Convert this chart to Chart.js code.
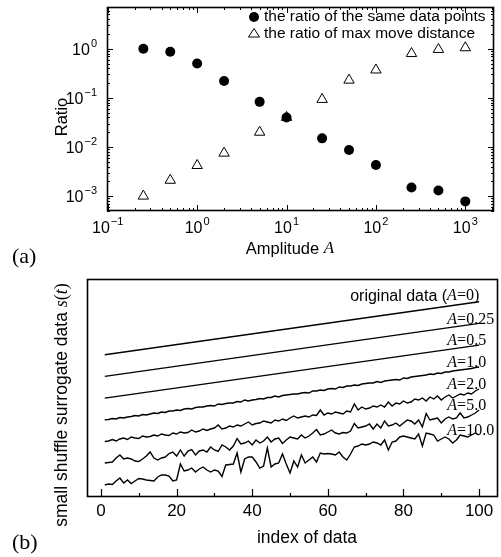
<!DOCTYPE html>
<html>
<head>
  <title>Small shuffle surrogate: ratio vs amplitude</title>
  <style>
    body { margin: 0; background: #fff; }
    #wrap { position: relative; width: 501px; height: 557px; }
    canvas { position: absolute; left: 0; }
    #chartA { top: 0; }
    #chartB { top: 270px; }
  </style>
</head>
<body>
  <div id="wrap">
    <canvas id="chartA" width="501" height="270"></canvas>
    <canvas id="chartB" width="501" height="287"></canvas>
  </div>

  <script src="https://cdn.jsdelivr.net/npm/chart.js"></script>
  <script>
    // ---- panel (a): ratios against amplitude A (log-log)
    const amplitudes = [0.25, 0.5, 1, 2, 5, 10, 25, 50, 100, 250, 500, 1000];
    const sameRatio = [1.0, 0.87, 0.5, 0.22, 0.083, 0.04, 0.015, 0.0087, 0.0043, 0.0015, 0.0013, 0.00078];
    const moveRatio = [0.001, 0.0021, 0.0042, 0.0075, 0.02, 0.04, 0.093, 0.23, 0.37, 0.8, 0.97, 1.05];
    const xDecades = [-1, 0, 1, 2, 3];
    const yDecades = [-3, -2, -1, 0];
    const legendA = ['the ratio of the same data points', 'the ratio of max move distance'];

    // ---- panel (b): surrogate series s(t), stacked with an offset (arbitrary units)
    const indexTicks = [0, 20, 40, 60, 80, 100];
    const ampNames = ['0', '0.25', '0.5', '1.0', '2.0', '5.0', '10.0'];
    const straightIdx = [1, 100];
    const sOrig = [142.3, 195.3];
    const sA025 = [120.6, 173.6];
    const sA05 = [98.9, 151.9];
    const sA1 = [77.2, 77.5, 78.5, 78, 79.5, 79, 80, 80.5, 81.5, 81, 82.5, 82, 83, 84, 83.5, 85, 84.5, 86, 86, 87,
      86.5, 88, 88.5, 88, 89.5, 90, 90, 91, 91.5, 91, 93, 92.5, 93.5, 94, 94, 95.5, 95, 97, 96, 97,
      97.5, 98.5, 98, 99.5, 99.5, 101, 100, 101.5, 102, 102.5, 103, 103, 104, 104.5, 104, 106, 106, 107, 106.5, 108,
      108.5, 108, 110, 109.5, 111, 111, 112, 111.5, 113, 113.5, 114, 114, 115.5, 114.5, 116, 116.5, 117, 117.5, 117, 119,
      118.5, 120, 120.5, 121, 121.5, 122, 123, 122.5, 124, 123.5, 125, 125, 126, 126.5, 127, 127.5, 128, 128.5, 129.5, 130];
    const sA2 = [55.5, 56, 57.5, 56, 58, 59, 57.5, 60, 59, 58.5, 61, 60, 60.5, 62, 61, 63, 62, 61.5, 64, 63,
      65, 64, 64.5, 67, 65, 66, 68, 66.5, 68, 69, 72, 68, 69, 71, 70, 72, 71, 73, 75, 72,
      73.5, 74, 76, 75, 74, 77, 76, 78, 76.5, 79, 81, 79, 80, 81, 80, 82, 81.5, 87, 82, 84,
      83, 85, 84, 83, 86, 85, 93, 87, 90, 88, 89, 91, 90, 92, 90, 95, 91, 94, 93, 96,
      94, 95, 98, 97, 99, 96, 100, 98, 101, 97, 100, 102, 99, 101, 103, 102, 104, 103, 106, 108];
    const sA5 = [34, 34.5, 35, 39, 42, 38, 39, 38, 36, 35.5, 38, 41, 45, 39, 37, 39, 40, 43.5, 45, 41,
      47, 41, 46, 47.5, 42, 46, 47, 45, 50, 47, 45.5, 52, 50, 47, 51, 58.5, 53, 54, 56, 52,
      57, 54, 56, 60, 55, 58, 59, 53.5, 57, 60, 59, 58, 62, 59, 61, 64, 67.5, 62, 63, 65,
      67, 64, 63, 64.5, 64, 66, 73.5, 69, 70, 71, 73, 68, 73, 69, 76, 71, 72, 74, 71, 74,
      77, 76, 73, 77, 70, 83.5, 77, 78, 79, 74, 78, 80, 78, 79, 84, 79, 80, 82, 84, 87];
    const sA10 = [12, 13, 12.5, 16, 19, 14, 17, 13.5, 16, 18.5, 18, 17, 16.5, 16, 20, 22, 22, 21, 16, 17,
      33, 26, 27, 29, 25, 28, 30, 27, 25, 27, 26, 20.5, 32, 32.5, 33, 44, 25, 38, 40, 40,
      35, 29, 31, 49, 30, 33, 34, 43, 33, 24, 36, 30, 42, 34, 37, 40, 35, 44, 43, 43.5,
      43, 42, 45, 40, 37, 43, 50, 51, 53, 52, 53, 55, 54, 52, 57, 47, 55, 56, 60, 61,
      60, 59, 58, 63, 51, 64, 63, 62, 56, 58, 60, 58, 54, 57, 62, 61, 60, 62, 64, 62];

    const SANS = '"Liberation Sans", Arial, sans-serif';
    const SERIF = '"Liberation Serif", "Times New Roman", serif';

    // draw a run of text pieces in different fonts, left to right
    function runsWidth(ctx, runs) {
      let w = 0;
      runs.forEach(([t, f]) => { ctx.font = f; w += ctx.measureText(t).width; });
      return w;
    }
    function drawRuns(ctx, runs, x, y) {
      ctx.textAlign = 'left';
      ctx.textBaseline = 'middle';
      runs.forEach(([t, f]) => { ctx.font = f; ctx.fillText(t, x, y); x += ctx.measureText(t).width; });
    }

    // "10" with a raised exponent
    function drawPow(ctx, e, x, y, align) {
      const sup = e < 0 ? '\u2212' + (-e) : String(e);
      ctx.font = '16px ' + SANS;
      const wb = ctx.measureText('10').width;
      ctx.font = '11px ' + SANS;
      const ws = ctx.measureText(sup).width;
      const total = wb + 1 + ws;
      const left = align === 'center' ? x - total / 2 : x - total;
      ctx.textAlign = 'left';
      ctx.textBaseline = 'middle';
      ctx.font = '16px ' + SANS;
      ctx.fillText('10', left, y);
      ctx.font = '11px ' + SANS;
      ctx.fillText(sup, left + wb + 1, y - 7);
    }

    const framePluginA = {
      id: 'framePluginA',
      afterDraw(chart) {
        const { ctx, chartArea: a, scales: { x, y } } = chart;
        ctx.save();
        ctx.strokeStyle = '#000';
        ctx.fillStyle = '#000';
        ctx.lineWidth = 1.6;
        ctx.strokeRect(a.left + 0.5, a.top + 0.5, a.right - a.left - 1, a.bottom - a.top - 1);

        // inward ticks on all four sides, major at decades
        ctx.lineWidth = 1;
        ctx.beginPath();
        for (let e = -1; e <= 3; e++) {
          for (let m = 1; m <= 9; m++) {
            const v = m * Math.pow(10, e);
            if (v < x.min || v > x.max) continue;
            const px = Math.round(x.getPixelForValue(v)) + 0.5;
            const len = m === 1 ? 6 : 3;
            ctx.moveTo(px, a.bottom); ctx.lineTo(px, a.bottom - len);
            ctx.moveTo(px, a.top); ctx.lineTo(px, a.top + len);
          }
        }
        for (let e = -4; e <= 0; e++) {
          for (let m = 1; m <= 9; m++) {
            const v = m * Math.pow(10, e);
            if (v < y.min || v > y.max) continue;
            const py = Math.round(y.getPixelForValue(v)) + 0.5;
            const len = m === 1 ? 6 : 3;
            ctx.moveTo(a.left, py); ctx.lineTo(a.left + len, py);
            ctx.moveTo(a.right, py); ctx.lineTo(a.right - len, py);
          }
        }
        ctx.stroke();

        xDecades.forEach(e => drawPow(ctx, e, x.getPixelForValue(Math.pow(10, e)), 229, 'center'));
        yDecades.forEach(e => drawPow(ctx, e, 97, y.getPixelForValue(Math.pow(10, e)) + 2, 'right'));

        // axis titles
        const t1 = [['Amplitude ', '16.5px ' + SANS], ['A', 'italic 17px ' + SERIF]];
        drawRuns(ctx, t1, 290 - runsWidth(ctx, t1) / 2, 249);
        ctx.save();
        ctx.translate(62, 117);
        ctx.rotate(-Math.PI / 2);
        ctx.font = '16.5px ' + SANS;
        ctx.textAlign = 'center';
        ctx.textBaseline = 'middle';
        ctx.fillText('Ratio', 0, 0);
        ctx.restore();

        // legend
        ctx.beginPath();
        ctx.arc(254, 17, 5, 0, Math.PI * 2);
        ctx.fill();
        ctx.beginPath();
        ctx.moveTo(254, 28.5); ctx.lineTo(259.5, 37); ctx.lineTo(248.5, 37); ctx.closePath();
        ctx.stroke();
        ctx.font = '15.5px ' + SANS;
        ctx.textAlign = 'left';
        ctx.textBaseline = 'middle';
        chart.data.datasets.forEach((ds, i) => ctx.fillText(ds.label, 264, 17 + i * 16.5));

        ctx.font = '22px ' + SERIF;
        ctx.fillText('(a)', 12, 257);
        ctx.restore();
      }
    };

    new Chart(document.getElementById('chartA'), {
      type: 'scatter',
      data: {
        datasets: [
          {
            label: legendA[0],
            data: amplitudes.map((a, i) => ({ x: a, y: sameRatio[i] })),
            pointStyle: 'circle',
            pointRadius: 5,
            backgroundColor: '#000',
            borderColor: '#000',
            borderWidth: 0
          },
          {
            label: legendA[1],
            data: amplitudes.map((a, i) => ({ x: a, y: moveRatio[i] })),
            pointStyle: 'triangle',
            pointRadius: 6,
            backgroundColor: 'rgba(255,255,255,0)',
            borderColor: '#000',
            borderWidth: 1
          }
        ]
      },
      options: {
        responsive: false,
        animation: false,
        devicePixelRatio: 1,
        layout: { padding: { top: 6, right: 3, left: 0, bottom: 0 } },
        plugins: { legend: { display: false }, tooltip: { enabled: false } },
        scales: {
          x: {
            type: 'logarithmic', min: 0.098, max: 2094,
            grid: { display: false }, border: { display: false },
            ticks: { display: false },
            afterFit: s => { s.height = 59; }
          },
          y: {
            type: 'logarithmic', min: 4.97e-4, max: 7.1,
            grid: { display: false }, border: { display: false },
            ticks: { display: false },
            afterFit: s => { s.width = 107; }
          }
        }
      },
      plugins: [framePluginA]
    });

    const framePluginB = {
      id: 'framePluginB',
      afterDraw(chart) {
        const { ctx, chartArea: a, scales: { x, y } } = chart;
        ctx.save();
        ctx.strokeStyle = '#000';
        ctx.fillStyle = '#000';
        ctx.lineWidth = 1.6;
        ctx.strokeRect(a.left + 0.5, a.top + 0.5, a.right - a.left - 1, a.bottom - a.top - 1);

        ctx.lineWidth = 1.2;
        ctx.beginPath();
        for (let v = 0; v <= 100; v += 10) {
          const px = Math.round(x.getPixelForValue(v)) + 0.5;
          const len = v % 20 === 0 ? 8 : 4;
          ctx.moveTo(px, a.bottom); ctx.lineTo(px, a.bottom - len);
        }
        ctx.stroke();

        ctx.font = '17px ' + SANS;
        ctx.textAlign = 'center';
        ctx.textBaseline = 'middle';
        indexTicks.forEach(v => ctx.fillText(String(v), x.getPixelForValue(v), 241));

        ctx.font = '17.5px ' + SANS;
        ctx.fillText('index of data', 307, 268);

        // rotated y title
        const yt = [['small shuffle surrogate data ', '17.5px ' + SANS], ['s', 'italic 18px ' + SERIF],
          ['(', '18px ' + SERIF], ['t', 'italic 18px ' + SERIF], [')', '18px ' + SERIF]];
        ctx.save();
        ctx.translate(62, 135);
        ctx.rotate(-Math.PI / 2);
        drawRuns(ctx, yt, -runsWidth(ctx, yt) / 2, 0);
        ctx.restore();

        // series labels next to the right end of each line
        chart.data.datasets.forEach((ds, i) => {
          const last = ds.data[ds.data.length - 1].y;
          const py = y.getPixelForValue(last) - 4;
          const amp = [['A', 'italic 16px ' + SERIF], ['=' + ampNames[i], '16px ' + SERIF]];
          if (i === 0) {
            drawRuns(ctx, [['original data (', '16px ' + SANS], ...amp, [')', '16px ' + SERIF]],
              x.getPixelForValue(65.9), py - 1.5);
          } else {
            drawRuns(ctx, amp, x.getPixelForValue(91.6), py);
          }
        });

        ctx.font = '22px ' + SERIF;
        ctx.textAlign = 'left';
        ctx.fillText('(b)', 12, 273);
        ctx.restore();
      }
    };

    const lineStyle = { borderColor: '#000', borderWidth: 1.4, pointRadius: 0, tension: 0, fill: false };
    const idx = sA1.map((_, i) => i + 1);
    const straight = vals => straightIdx.map((t, i) => ({ x: t, y: vals[i] }));
    const noisy = vals => idx.map((t, i) => ({ x: t, y: vals[i] }));

    new Chart(document.getElementById('chartB'), {
      type: 'line',
      data: {
        datasets: [
          { label: 'original data (A=0)', data: straight(sOrig), ...lineStyle },
          { label: 'A=0.25', data: straight(sA025), ...lineStyle },
          { label: 'A=0.5', data: straight(sA05), ...lineStyle },
          { label: 'A=1.0', data: noisy(sA1), ...lineStyle },
          { label: 'A=2.0', data: noisy(sA2), ...lineStyle },
          { label: 'A=5.0', data: noisy(sA5), ...lineStyle },
          { label: 'A=10.0', data: noisy(sA10), ...lineStyle }
        ]
      },
      options: {
        responsive: false,
        animation: false,
        devicePixelRatio: 1,
        layout: { padding: { top: 9, right: 3, left: 0, bottom: 0 } },
        plugins: { legend: { display: false }, tooltip: { enabled: false } },
        scales: {
          x: {
            type: 'linear', min: -3.7, max: 105,
            grid: { display: false }, border: { display: false },
            ticks: { display: false },
            afterFit: s => { s.height = 60; }
          },
          y: {
            type: 'linear', min: 0, max: 218,
            grid: { display: false }, border: { display: false },
            ticks: { display: false },
            afterFit: s => { s.width = 87; }
          }
        }
      },
      plugins: [framePluginB]
    });
  </script>
</body>
</html>
